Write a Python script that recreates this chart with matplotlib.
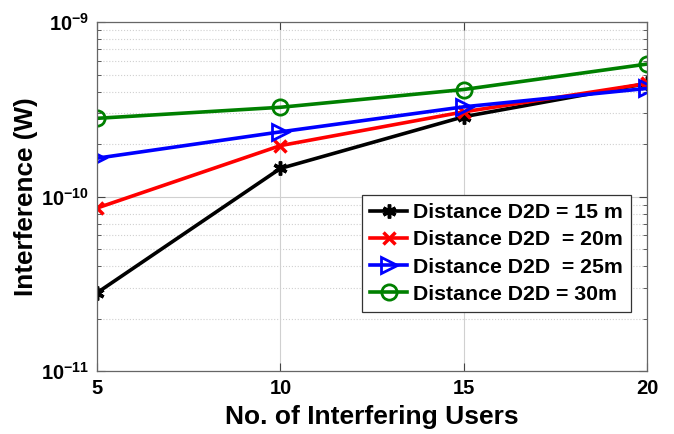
import matplotlib
matplotlib.use("Agg")
import matplotlib.pyplot as plt
from matplotlib.ticker import FixedLocator, LogLocator, NullFormatter

plt.rcParams["font.family"] = ["Liberation Sans", "DejaVu Sans"]
plt.rcParams["font.weight"] = "bold"
plt.rcParams["mathtext.fontset"] = "custom"
plt.rcParams["mathtext.rm"] = "Liberation Sans:bold"
plt.rcParams["mathtext.bf"] = "Liberation Sans:bold"

# Datos
users = [5, 10, 15, 20]
d15 = [2.81e-11, 1.45e-10, 2.87e-10, 4.45e-10]
d20 = [8.6e-11, 1.96e-10, 3.06e-10, 4.45e-10]
d25 = [1.66e-10, 2.35e-10, 3.27e-10, 4.17e-10]
d30 = [2.81e-10, 3.25e-10, 4.11e-10, 5.75e-10]

labels = [
    "Distance D2D = 15 m",
    "Distance D2D  = 20m",
    "Distance D2D  = 25m",
    "Distance D2D = 30m",
]
y_ticks = [1e-11, 1e-10, 1e-9]
y_tick_labels = [r"$\mathbf{10^{-11}}$", r"$\mathbf{10^{-10}}$", r"$\mathbf{10^{-9}}$"]

fig = plt.figure(figsize=(6.74, 4.34), dpi=100)
ax = fig.add_axes([0.144, 0.145, 0.816, 0.804])

lw = 2.6
asterisk = (6, 2, 0)
ax.plot(users, d15, color="black", marker=asterisk, ms=10, mew=2.5, lw=lw, label=labels[0])
ax.plot(users, d20, color="#ff0000", marker="x", ms=9, mew=2.5, lw=lw, label=labels[1])
ax.plot(users, d25, color="#0000ff", marker=">", ms=11, mew=2, mfc="none", lw=lw, label=labels[2])
ax.plot(users, d30, color="#008000", marker="o", ms=11, mew=2, mfc="none", lw=lw, label=labels[3])

ax.set_yscale("log")
ax.set_xlim(5, 20)
ax.set_ylim(1e-11, 1e-9)
ax.set_xticks([5, 10, 15, 20])
ax.yaxis.set_major_locator(FixedLocator(y_ticks))
ax.set_yticklabels(y_tick_labels)
ax.yaxis.set_minor_locator(LogLocator(base=10, subs=range(2, 10)))
ax.yaxis.set_minor_formatter(NullFormatter())

ax.grid(True, which="major", color="#d0d0d0", lw=0.8, ls="-")
ax.grid(True, which="minor", axis="y", color="#d0d0d0", lw=0.8, ls=":")
ax.tick_params(which="both", direction="in", top=True, right=True, color="#444444")
ax.tick_params(which="major", length=6, labelsize=14.5, pad=6)
ax.tick_params(which="minor", length=3)
for s in ax.spines.values():
    s.set_color("#666666")
    s.set_linewidth(0.9)

ax.set_xlabel("No. of Interfering Users", fontsize=19, fontweight="bold", labelpad=5)
ax.set_ylabel("Interference (W)", fontsize=18.8, fontweight="bold", labelpad=2)

leg = ax.legend(loc="lower right", bbox_to_anchor=(0.971, 0.169), fontsize=15.3,
                fancybox=False, framealpha=1, edgecolor="#333333",
                handlelength=1.75, handletextpad=0.25, borderpad=0.4, labelspacing=0.38,
                borderaxespad=0)
leg.get_frame().set_linewidth(0.9)

fig.savefig("out.png", dpi=100)
